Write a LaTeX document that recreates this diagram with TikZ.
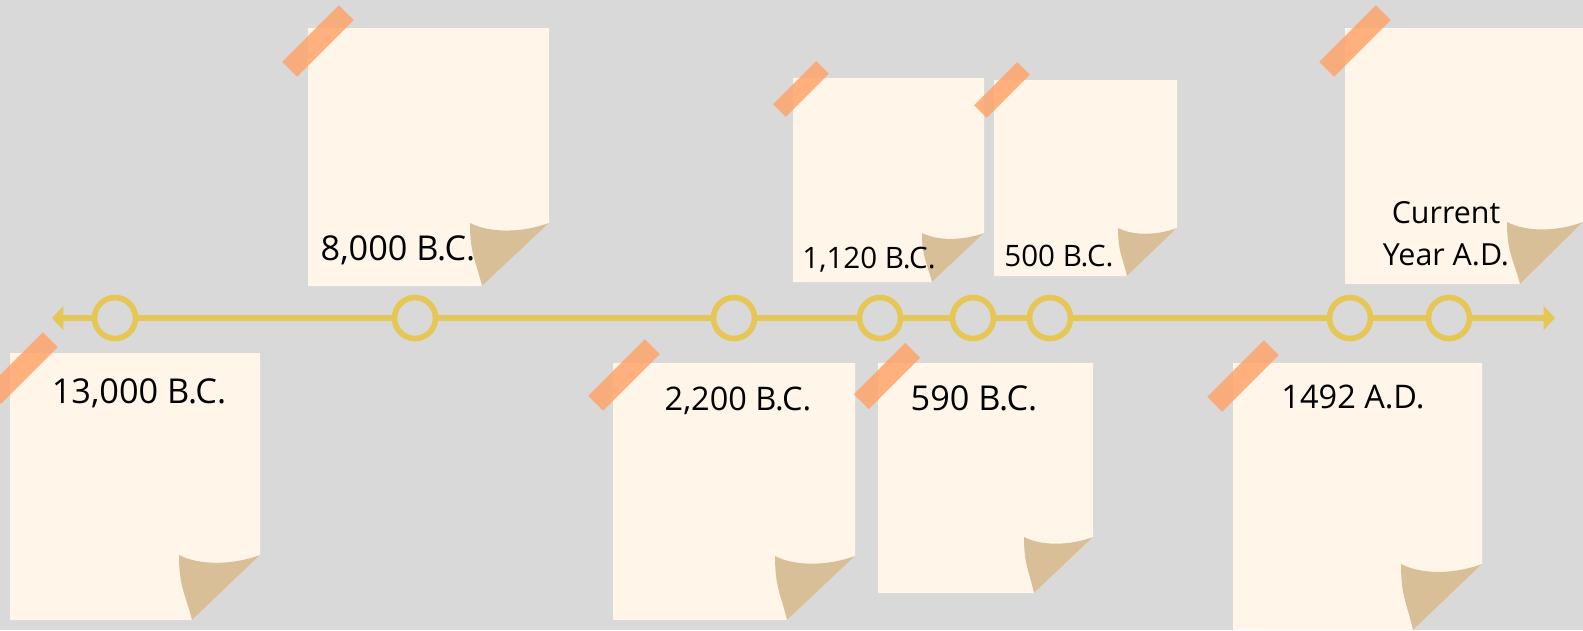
\documentclass[tikz,border=0pt]{standalone}
\usepackage{fontspec}
\setmainfont{Open Sans}
\usetikzlibrary{arrows.meta}
\definecolor{wallgray}{HTML}{D9D9D9}
\definecolor{paper}{HTML}{FFF5E9}
\definecolor{curl}{HTML}{D8BF98}
\definecolor{tapeorange}{HTML}{FFA56B}
\definecolor{lineyellow}{HTML}{E6C655}
\tikzset{
    note/.style={fill=paper},
    fold/.style={fill=curl},
    tape/.style={rectangle, rotate=45, fill=tapeorange, fill opacity=0.85, inner sep=0pt, minimum width=1.6cm, minimum height=0.42cm},
    small tape/.style={tape, minimum width=1.22cm, minimum height=0.36cm},
    date/.style={font=\fontsize{18.5}{24}\selectfont, text=black, inner sep=0pt, anchor=base},
    big date/.style={date, font=\fontsize{19.5}{24}\selectfont},
    small date/.style={date, font=\fontsize{16.8}{22}\selectfont},
    year dot/.style={circle, draw=lineyellow, line width=3.2pt, minimum size=0.82cm, inner sep=0pt},
    time line/.style={draw=lineyellow, line width=3.4pt}
}

\begin{document}
\begin{tikzpicture}[x=0.02cm, y=-0.02cm, >={Triangle[length=6.5pt,width=13.5pt]}]
	\path[use as bounding box, fill=wallgray] (0,0) rectangle (1583,630);
	% sticky notes: top left, bottom right, curl width, curl height, curl offset
	\foreach \xa/\ya/\xb/\yb/\fw/\fh/\of in {10/353/260/620/81/65/13, 308/28/549/286/79/63/12,
		613/363/855/620/80/64/12, 793/78/984/282/62/49/10, 994/80/1177/276/59/48/9,
		878/363/1093/593/69/56/10, 1233/363/1482/630/81/66/12, 1345/28/1583/284/76/62/13}{
		\fill[note] (\xa,\ya) -- (\xb,\ya) -- (\xb,{\yb-\fh}) -- ({\xb-\fw+\of},\yb) -- (\xa,\yb) -- cycle;
		\fill[fold] ({\xb-\fw},{\yb-\fh}) .. controls +(0,{0.5*\fh}) and +({-0.5*\of},{-0.4*\fh}) .. ({\xb-\fw+\of},\yb)
			-- (\xb,{\yb-\fh}) .. controls +({-0.35*\fw},{0.16*\fh}) and +({0.25*\fw},{0.16*\fh}) .. ({\xb-\fw},{\yb-\fh}) -- cycle;
	}
	% time line
	\foreach \n/\x in {1/115, 2/415, 3/734, 4/880, 5/973, 6/1050, 7/1350, 8/1449}
		\node[year dot] (d\n) at (\x,318) {};
	\coordinate (west end) at (52,318);
	\coordinate (east end) at (1555,318);
	\draw[time line, ->] (d1) -- (west end);
	\foreach \a/\b in {1/2, 2/3, 3/4, 4/5, 5/6, 6/7, 7/8}
		\draw[time line] (d\a) -- (d\b);
	\draw[time line, ->] (d8) -- (east end);
	% tapes
	\node[tape] (tp1) at (22,368) {};
	\node[tape] (tp2) at (318,41) {};
	\node[tape] (tp3) at (624,375) {};
	\node[small tape] (tp4) at (801,89) {};
	\node[small tape] (tp5) at (1002,90) {};
	\node[tape, minimum width=1.45cm] (tp6) at (887,376) {};
	\node[tape] (tp7) at (1243,376) {};
	\node[tape] (tp8) at (1355,41) {};
	% dates
	\node[big date] (y1) at (139,403) {13,000 B.C.};
	\node[big date] (y2) at (398,260) {8,000 B.C.};
	\node[date] (y3) at (738,410) {2,200 B.C.};
	\node[small date] (y4) at (869,268) {1,120 B.C.};
	\node[small date] (y5) at (1059,266) {500 B.C.};
	\node[big date] (y6) at (974,410) {590 B.C.};
	\node[date] (y7) at (1353,408) {1492 A.D.};
	\node[date, font=\fontsize{17.3}{24}\selectfont, anchor=center, align=center] (y8) at (1446,234) {Current\\Year A.D.};
\end{tikzpicture}
\end{document}
